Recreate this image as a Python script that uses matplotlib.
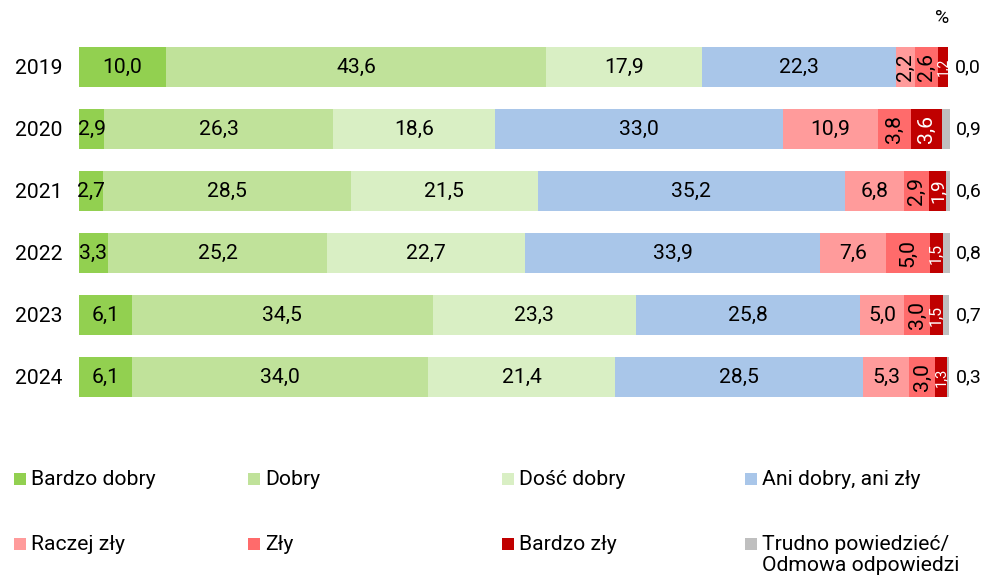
import matplotlib
matplotlib.use('Agg')
import matplotlib.pyplot as plt
from matplotlib.patches import Rectangle

plt.rcParams['font.family'] = ['Roboto', 'DejaVu Sans']

years = ['2019', '2020', '2021', '2022', '2023', '2024']
categories = ['Bardzo dobry', 'Dobry', 'Dość dobry', 'Ani dobry, ani zły',
              'Raczej zły', 'Zły', 'Bardzo zły', 'Trudno powiedzieć/\nOdmowa odpowiedzi']
colors = ['#92D050', '#C0E29A', '#D9EFC4', '#A9C6E9', '#FF9B9B', '#FF6B6B', '#C00000', '#BFBFBF']

bardzo_dobry = [10.0, 2.9, 2.7, 3.3, 6.1, 6.1]
dobry = [43.6, 26.3, 28.5, 25.2, 34.5, 34.0]
dosc_dobry = [17.9, 18.6, 21.5, 22.7, 23.3, 21.4]
ani = [22.3, 33.0, 35.2, 33.9, 25.8, 28.5]
raczej_zly = [2.2, 10.9, 6.8, 7.6, 5.0, 5.3]
zly = [2.6, 3.8, 2.9, 5.0, 3.0, 3.0]
bardzo_zly = [1.2, 3.6, 1.9, 1.5, 1.5, 1.3]
trudno = [0.0, 0.9, 0.6, 0.8, 0.7, 0.3]

series = [bardzo_dobry, dobry, dosc_dobry, ani, raczej_zly, zly, bardzo_zly, trudno]

W, H = 990, 577
fig = plt.figure(figsize=(W / 100, H / 100), dpi=100)
ax = fig.add_axes([79 / W, 1 - 408 / H, 871 / W, 372 / H])

FS = 15.2
ypos = list(range(len(years)))
left = [0.0] * len(years)
for ci, (vals, col) in enumerate(zip(series, colors)):
    ax.barh(ypos, vals, left=left, height=0.645, color=col, edgecolor='none')
    for i, v in enumerate(vals):
        lbl = f"{v:.1f}".replace('.', ',')
        center = left[i] + v / 2
        if ci == len(series) - 1:
            ax.text(102.1, i, lbl, ha='center', va='center', fontsize=FS * 0.92,
                    color='black', clip_on=False)
            continue
        tcol = 'white' if ci == 6 else 'black'
        rotated = ci in (5, 6) or v < 2.5
        if rotated:
            fs = min(FS, 4 + v * 5)
            ax.text(center, i, lbl, ha='center', va='center', rotation=90,
                    fontsize=fs, color=tcol)
        else:
            ax.text(center, i, lbl, ha='center', va='center', fontsize=FS, color=tcol)
    left = [l + v for l, v in zip(left, vals)]

ax.set_xlim(0, 100)
ax.set_ylim(5.5, -0.5)
ax.set_yticks(ypos)
ax.set_yticklabels(years, fontsize=FS)
ax.tick_params(axis='y', length=0, pad=12)
ax.set_xticks([])
for s in ax.spines.values():
    s.set_visible(False)

fig.text(942 / W, 1 - 18 / H, '%', ha='center', va='center', fontsize=FS * 0.92)

# legend
col_x = [14, 248, 502, 745]
row_y = [479, 544]
for k, (cat, col) in enumerate(zip(categories, colors)):
    r, c = divmod(k, 4)
    x0, yc = col_x[c], row_y[r]
    fig.patches.append(Rectangle((x0 / W, 1 - (yc + 6) / H), 12 / W, 12 / H,
                                 transform=fig.transFigure, facecolor=col,
                                 edgecolor='none'))
    fig.text((x0 + 17) / W, 1 - (yc - 9) / H, cat, ha='left', va='top',
             fontsize=FS, linespacing=1.12)

fig.savefig('out.png', dpi=100)
